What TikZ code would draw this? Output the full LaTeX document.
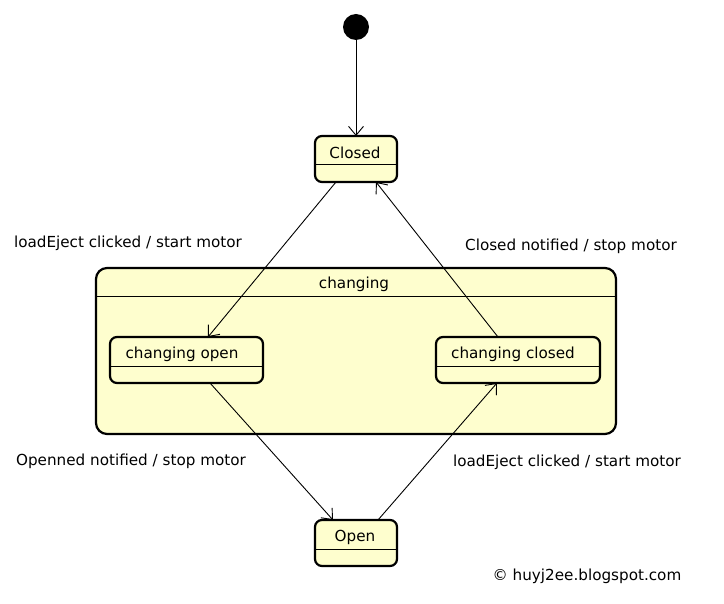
\documentclass[tikz,border=0pt]{standalone}
\usepackage{fontspec}
\setmainfont{DejaVu Sans}
\usetikzlibrary{arrows.meta}
\definecolor{statefill}{HTML}{FEFECE}
\begin{document}
\begin{tikzpicture}[x=1pt,y=-1pt,
  font=\fontsize{15.2}{17}\selectfont,
  statebox/.style={draw, line width=2.2pt, fill=statefill, rounded corners=7pt},
  conn/.style={line width=0.9pt, -{Straight Barb[length=9pt,width=15pt,line width=0.9pt]}},
  lbl/.style={inner sep=0pt, anchor=center}]
\useasboundingbox (0,0) rectangle (724,604);
% initial
\node[circle, fill=black, minimum size=26pt, inner sep=0pt] (init) at (356,27) {};
% Closed
\draw[statebox] (315,136) rectangle (397,182);
\draw[line width=1pt] (315,165) -- (397,165);
\node[lbl] (closedT) at (355,153) {Closed};
\coordinate (closedTop) at (356,136);
\coordinate (closedBL) at (336,182);
\coordinate (closedBR) at (376,182);
% container
\draw[statebox, rounded corners=11pt] (96,268) rectangle (616,434);
\draw[line width=1pt] (96,297) -- (616,297);
\node[lbl] (chT) at (354,284) {changing};
% changing open
\draw[statebox] (110,337) rectangle (263,383);
\draw[line width=1pt] (110,367) -- (263,367);
\node[lbl] (coT) at (182,354) {changing open};
\coordinate (coTop) at (208,337);
\coordinate (coBot) at (210,383);
% changing closed
\draw[statebox] (436,337) rectangle (600,383);
\draw[line width=1pt] (436,367) -- (600,367);
\node[lbl] (ccT) at (513,354) {changing closed};
\coordinate (ccTop) at (498,337);
\coordinate (ccBot) at (497,383);
% Open
\draw[statebox] (315,520) rectangle (397,566);
\draw[line width=1pt] (315,549) -- (397,549);
\node[lbl] (openT) at (355,537) {Open};
\coordinate (openTL) at (333,520);
\coordinate (openTR) at (378,520);
% connectors
\draw[conn] (init) -- (closedTop);
\draw[conn] (closedBL) -- (coTop);
\draw[conn] (ccTop) -- (closedBR);
\draw[conn] (coBot) -- (openTL);
\draw[conn] (openTR) -- (ccBot);
% labels
\node[lbl] (l1) at (128,243) {loadEject clicked / start motor};
\node[lbl] (l2) at (571,246) {Closed notified / stop motor};
\node[lbl] (l3) at (131,461) {Openned notified / stop motor};
\node[lbl] (l4) at (567,462) {loadEject clicked / start motor};
\node[lbl] (cp) at (587,576) {© huyj2ee.blogspot.com};
\end{tikzpicture}
\end{document}
